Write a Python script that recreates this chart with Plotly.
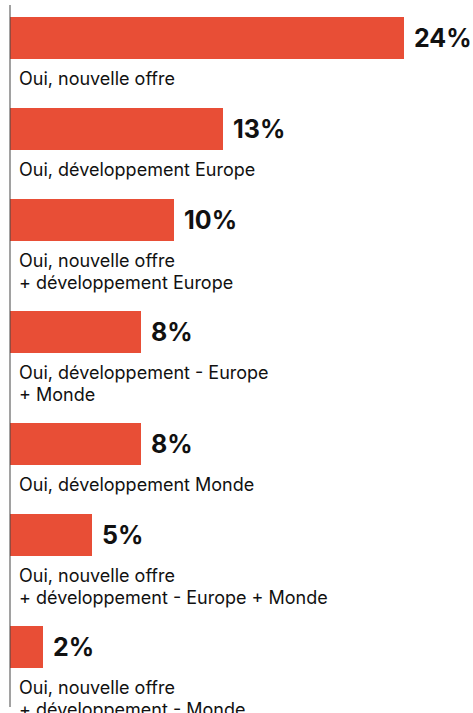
import plotly.graph_objects as go

# ---- data ----
categories = [
    "Oui, nouvelle offre",
    "Oui, développement Europe",
    "Oui, nouvelle offre<br>+ développement Europe",
    "Oui, développement - Europe<br>+ Monde",
    "Oui, développement Monde",
    "Oui, nouvelle offre<br>+ développement - Europe + Monde",
    "Oui, nouvelle offre<br>+ développement - Monde",
]
values = [24, 13, 10, 8, 8, 5, 2]
value_labels = [f"{v}%" for v in values]

# ---- layout constants ----
W, H = 473, 713
BAR_COLOR = "#E84E36"
TEXT_COLOR = "#111111"
BAR_H = 42
FIRST_CENTER = 38
BASE_GAP = 91
EXTRA_PER_LINE = 21
LABEL_LINE_GAP = 22
PX_PER_UNIT = 394 / 24
X0_PX = 10

centers = []
y = FIRST_CENTER
for lab in categories:
    centers.append(y)
    y += BASE_GAP + EXTRA_PER_LINE * lab.count("<br>")

fig = go.Figure()
fig.add_trace(go.Bar(
    x=values, y=centers, orientation="h", width=BAR_H,
    marker=dict(color=BAR_COLOR, line=dict(width=0)),
    hoverinfo="skip", showlegend=False,
))

annotations = []
for v, lab_v, c in zip(values, value_labels, centers):
    annotations.append(dict(
        x=v, y=c, xref="x", yref="y", text=lab_v, showarrow=False,
        xanchor="left", yanchor="middle", xshift=9, borderpad=0,
        font=dict(family="Inter", size=25, color=TEXT_COLOR, weight=700),
    ))
for lab, c in zip(categories, centers):
    for k, line in enumerate(lab.split("<br>")):
        annotations.append(dict(
            x=0, y=c + 40 + LABEL_LINE_GAP * k, xref="x", yref="y", text=line,
            showarrow=False, xanchor="left", yanchor="middle", xshift=8,
            borderpad=0,
            font=dict(family="Inter", size=18, color=TEXT_COLOR),
        ))

fig.update_layout(
    width=W, height=H,
    margin=dict(l=0, r=0, t=0, b=0),
    paper_bgcolor="white", plot_bgcolor="white",
    xaxis=dict(range=[-X0_PX / PX_PER_UNIT, (W - X0_PX) / PX_PER_UNIT],
               visible=False, fixedrange=True),
    yaxis=dict(range=[H, 0], visible=False, fixedrange=True),
    annotations=annotations,
    shapes=[dict(type="line", xref="x", yref="y", x0=0, x1=0, y0=5, y1=707,
                 line=dict(color="#444444", width=1), layer="above")],
    bargap=0,
)

fig.write_html("out.html", config={"displayModeBar": False},
               post_script="document.body.style.margin='0';document.body.style.overflow='hidden';")
